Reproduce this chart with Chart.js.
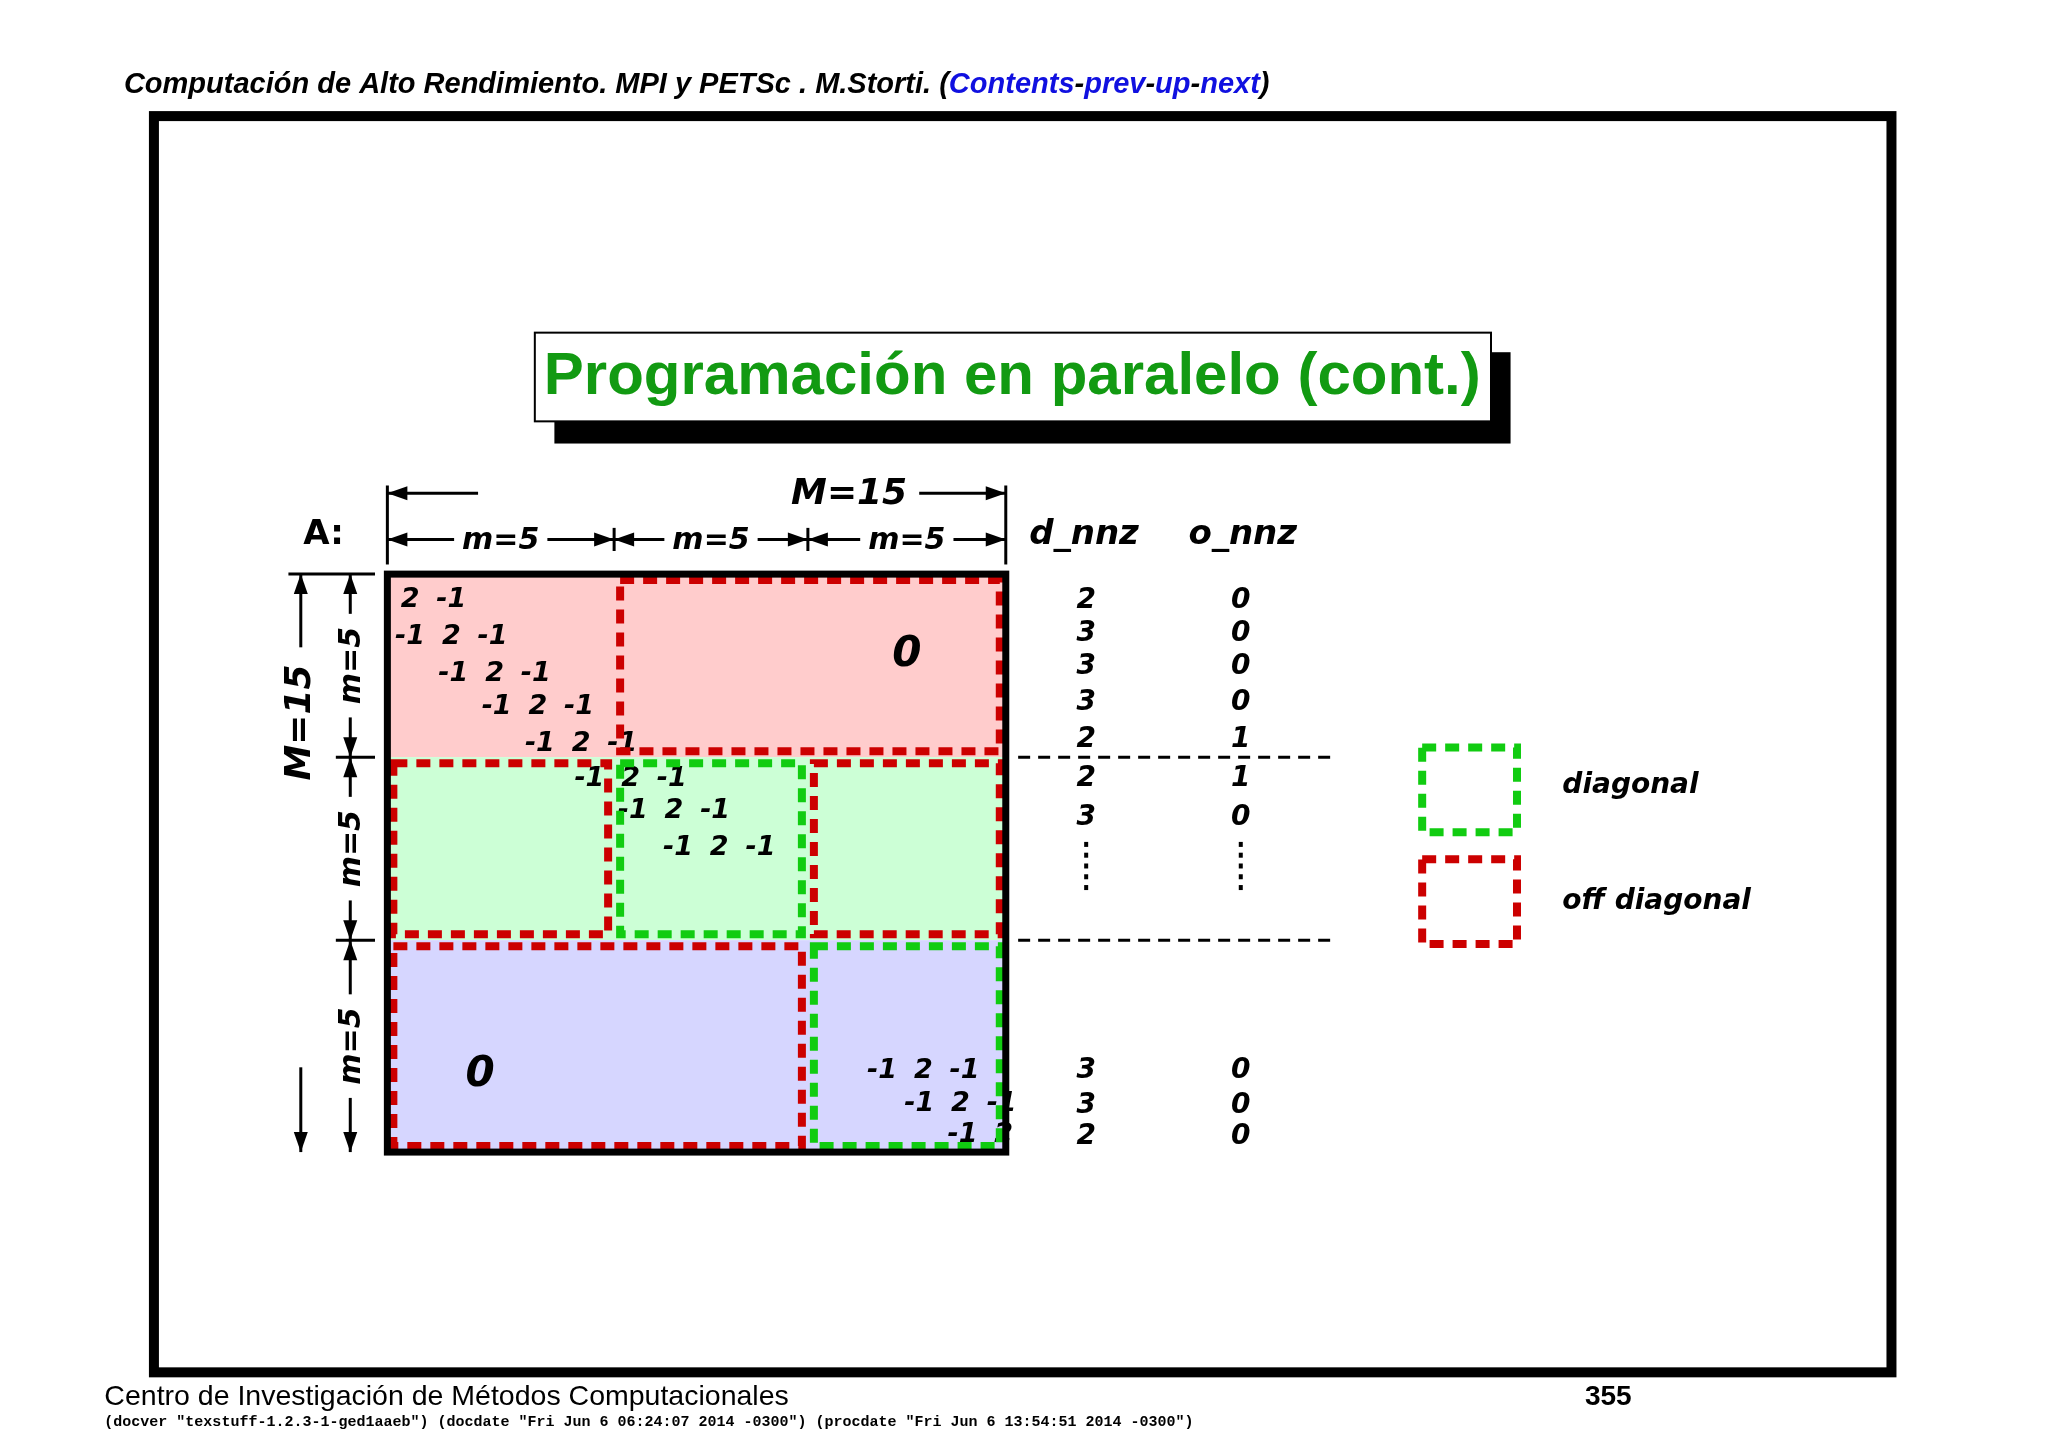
<!DOCTYPE html>
<html><head><meta charset="utf-8">
<script src="https://cdn.jsdelivr.net/npm/chart.js@4"></script>
<style>html,body{margin:0;padding:0;background:#fff}#w{width:2048px;height:1448px}</style>
</head><body><div id="w"><canvas id="c"></canvas></div>
<script>
// ---- data (matrix units: columns/rows 0..15) ----
const colBounds = [0,5.5,10.2,15];
const rowBounds = [0,4.75,9.5,15];
const blockFills = ['#ffcccc','#ccffd6','#d6d6ff'];
// dashed blocks as [firstColBlock,lastColBlock,rowBlock]
const offDiag = [[1,2,0],[0,0,1],[2,2,1],[0,1,2]];
const diagBlocks = [[1,1,1],[2,2,2]];
const entryRows = [0,1,2,3,4,5,6,7,12,13,14];
const entryRowY = [0.68,1.63,2.58,3.45,4.4,5.32,6.15,7.1,12.9,13.76,14.55];
const entryCols = [[0,1],[0,1,2],[1,2,3],[2,3,4],[3,4,5],[4,5,6],[5,6,7],[6,7,8],[11,12,13],[12,13,14],[13,14]];
const entryVals = [['2','-1'],['-1','2','-1'],['-1','2','-1'],['-1','2','-1'],['-1','2','-1'],['-1','2','-1'],['-1','2','-1'],['-1','2','-1'],['-1','2','-1'],['-1','2','-1'],['-1','2']];
const entryShift = [0.55,0.55,0.6,0.65,0.7,0.9,0.95,1.05,1.0,0.9,0.95];
const dnnz = ['2','3','3','3','2','2','3','3','3','2'];
const onnz = ['0','0','0','0','1','1','0','0','0','0'];
const nnzY = [0.68,1.55,2.4,3.35,4.3,5.32,6.32,12.9,13.8,14.6];
const zeroLabels = [['0',12.6,2.1],['0',2.25,13.0]];
const subLabels = ['m=5','m=5','m=5'];
const headerParts = [['Computación de Alto Rendimiento. MPI y PETSc . M.Storti. (','#000'],['Contents','#1010e0'],['-','#000'],['prev','#1010e0'],['-','#000'],['up','#1010e0'],['-','#000'],['next','#1010e0'],[')','#000']];
const titleText = 'Programación en paralelo (cont.)';
const legendLabels = ['diagonal','off diagonal'];
const footerLeft = 'Centro de Investigación de Métodos Computacionales';
const pageNum = '355';
const footerSmall = '(docver "texstuff-1.2.3-1-ged1aaeb") (docdate "Fri Jun 6 06:24:07 2014 -0300") (procdate "Fri Jun 6 13:54:51 2014 -0300")';

const MF = "'DejaVu Sans'";
const draw = {
  id:'draw',
  beforeDatasetsDraw(ch){
    const g=ch.ctx, X=ch.scales.x, Y=ch.scales.y, PX=ch.scales.px, PY=ch.scales.py;
    const mx=v=>X.getPixelForValue(v), my=v=>Y.getPixelForValue(v);
    const px=v=>PX.getPixelForValue(v), py=v=>PY.getPixelForValue(v);
    const rect=(c0,c1,rb,inset)=>{const x0=mx(colBounds[c0])+inset,x1=mx(colBounds[c1+1])-inset,y0=my(rowBounds[rb])+inset,y1=my(rowBounds[rb+1])-inset;g.strokeRect(x0,y0,x1-x0,y1-y0);};
    g.save();
    g.fillStyle='#fff';g.fillRect(0,0,ch.width,ch.height);
    // header
    g.font="italic bold 29px 'Liberation Sans'";g.textBaseline='alphabetic';g.textAlign='left';
    let hx=px(95);
    headerParts.forEach(([t,c])=>{g.fillStyle=c;g.fillText(t,hx,py(71));hx+=g.measureText(t).width;});
    // frame
    g.strokeStyle='#000';g.lineWidth=10;g.strokeRect(px(118),py(89),px(1450)-px(118),py(1052)-py(89));
    // title
    g.fillStyle='#000';g.fillRect(px(425),py(270),px(1158)-px(425),py(340)-py(270));
    g.fillStyle='#fff';g.fillRect(px(410),py(255),px(1143)-px(410),py(323)-py(255));
    g.lineWidth=2;g.strokeRect(px(410),py(255),px(1143)-px(410),py(323)-py(255));
    g.fillStyle='#129a12';g.font="bold 60px 'Liberation Sans'";g.textAlign='center';g.textBaseline='middle';
    g.fillText(titleText,px(776),py(289));
    // blocks
    for(let i=0;i<3;i++){g.fillStyle=blockFills[i];g.fillRect(mx(0),my(rowBounds[i]),mx(15)-mx(0),my(rowBounds[i+1])-my(rowBounds[i]));}
    // entries
    g.fillStyle='#000';g.font="italic bold 27px "+MF;
    entryRows.forEach((r,i)=>{entryCols[i].forEach((c,j)=>{g.fillText(entryVals[i][j],mx(c+entryShift[i]),my(entryRowY[i]));});});
    g.font="italic bold 42px "+MF;
    zeroLabels.forEach(([t,c,r])=>g.fillText(t,mx(c),my(r)));
    // dashed blocks
    g.lineWidth=8;g.setLineDash([14,9]);
    g.strokeStyle='#cc0000';offDiag.forEach(b=>rect(b[0],b[1],b[2],6));
    g.strokeStyle='#11cc11';diagBlocks.forEach(b=>rect(b[0],b[1],b[2],6));
    // legend boxes
    g.strokeStyle='#11cc11';g.strokeRect(mx(25.1),my(4.5),mx(27.4)-mx(25.1),my(6.7)-my(4.5));
    g.strokeStyle='#cc0000';g.strokeRect(mx(25.1),my(7.4),mx(27.4)-mx(25.1),my(9.6)-my(7.4));
    // black dashed separators
    g.strokeStyle='#000';g.lineWidth=3;g.setLineDash([12,8]);
    [rowBounds[1],rowBounds[2]].forEach(r=>{g.beginPath();g.moveTo(mx(15.3),my(r));g.lineTo(mx(22.9),my(r));g.stroke();});
    g.setLineDash([]);
    // outer matrix frame
    g.lineWidth=7;g.strokeRect(mx(0),my(0),mx(15)-mx(0),my(15)-my(0));
    // legend text
    g.fillStyle='#000';g.font="italic bold 28px "+MF;g.textAlign='left';
    g.fillText(legendLabels[0],mx(28.5),my(5.5));g.fillText(legendLabels[1],mx(28.5),my(8.5));
    // nnz
    g.textAlign='center';g.font="italic bold 34px "+MF;
    g.fillText('d_nnz',mx(16.9),my(-1));g.fillText('o_nnz',mx(20.75),my(-1));
    g.font="italic bold 28px "+MF;
    nnzY.forEach((r,i)=>{g.fillText(dnnz[i],mx(16.95),my(r));g.fillText(onnz[i],mx(20.7),my(r));});
    [16.95,20.7].forEach(c=>{for(let k=0;k<5;k++){g.fillRect(mx(c)-2,my(6.95+k*0.28),4,5);}});
    // dimension annotations
    g.lineWidth=3;
    const arrow=(x1,y1,x2,y2)=>{g.beginPath();g.moveTo(x1,y1);g.lineTo(x2,y2);g.stroke();
      const a=Math.atan2(y2-y1,x2-x1),L=20,W=7;g.beginPath();g.moveTo(x2,y2);
      g.lineTo(x2-L*Math.cos(a)+W*Math.sin(a),y2-L*Math.sin(a)-W*Math.cos(a));
      g.lineTo(x2-L*Math.cos(a)-W*Math.sin(a),y2-L*Math.sin(a)+W*Math.cos(a));g.closePath();g.fill();};
    const line=(x1,y1,x2,y2)=>{g.beginPath();g.moveTo(x1,y1);g.lineTo(x2,y2);g.stroke();};
    line(mx(0),my(-2.3),mx(0),my(-0.25));line(mx(15),my(-2.3),mx(15),my(-0.25));
    arrow(mx(2.2),my(-2.1),mx(0),my(-2.1));arrow(mx(12.9),my(-2.1),mx(15),my(-2.1));
    g.font="italic bold 36px "+MF;g.fillText('M=15',mx(11.2),my(-2.05));
    [colBounds[1],colBounds[2]].forEach(c=>line(mx(c),my(-1.2),mx(c),my(-0.6)));
    g.font="italic bold 30px "+MF;
    for(let i=0;i<3;i++){const a=colBounds[i],b=colBounds[i+1];const cx=(mx(a)+mx(b))/2;const w=g.measureText(subLabels[i]).width/2+8;
      arrow(cx-w,my(-0.9),mx(a),my(-0.9));arrow(cx+w,my(-0.9),mx(b),my(-0.9));g.fillText(subLabels[i],cx,my(-0.85));}
    g.font="bold 34px "+MF;g.fillText('A:',mx(-1.55),my(-1.0));
    line(mx(-2.4),my(0),mx(-0.3),my(0));
    arrow(mx(-2.1),my(1.9),mx(-2.1),my(0));arrow(mx(-2.1),my(12.8),mx(-2.1),my(15));
    g.save();g.translate(mx(-2.1),my(3.85));g.rotate(-Math.PI/2);g.font="italic bold 36px "+MF;g.fillText('M=15',0,0);g.restore();
    [rowBounds[1],rowBounds[2]].forEach(r=>line(mx(-1.25),my(r),mx(-0.3),my(r)));
    for(let i=0;i<3;i++){const a=rowBounds[i],b=rowBounds[i+1];const cy=(my(a)+my(b))/2;const w=g.measureText(subLabels[i]).width/2+8;
      arrow(mx(-0.9),cy-w,mx(-0.9),my(a));arrow(mx(-0.9),cy+w,mx(-0.9),my(b));
      g.save();g.translate(mx(-0.85),cy);g.rotate(-Math.PI/2);g.font="italic bold 30px "+MF;g.fillText(subLabels[i],0,0);g.restore();}
    // footer
    g.textAlign='left';g.textBaseline='alphabetic';g.fillStyle='#000';
    g.font="28.5px 'Liberation Sans'";g.fillText(footerLeft,px(80),py(1077));
    g.font="bold 28px 'Liberation Sans'";g.fillText(pageNum,px(1215),py(1077));
    g.font="bold 15px 'Liberation Mono'";g.fillText(footerSmall,px(80),py(1093));
    g.restore();
  }
};
new Chart(document.getElementById('c'),{
  type:'scatter',
  data:{datasets:[{data:[],xAxisID:'x',yAxisID:'y'}]},
  options:{responsive:true,maintainAspectRatio:false,animation:false,
    layout:{padding:0},
    plugins:{legend:{display:false},tooltip:{enabled:false}},
    scales:{
      x:{type:'linear',display:false,min:-9.396,max:40.28},
      y:{type:'linear',display:false,reverse:true,min:-14.9,max:22.68},
      px:{type:'linear',display:false,min:0,max:1570,axis:'x'},
      py:{type:'linear',display:false,reverse:true,min:0,max:1110,axis:'y'}
    }},
  plugins:[draw]
});
</script></body></html>
